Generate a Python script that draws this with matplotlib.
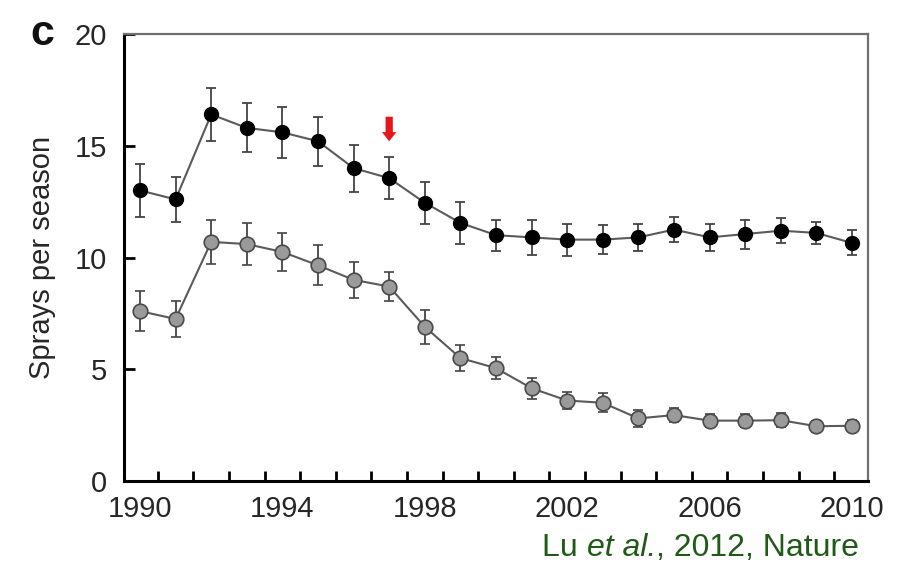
import numpy as np
from matplotlib import pyplot as plt

years = np.arange(1990, 2011)
bt_free = [13.0, 12.6, 16.4, 15.8, 15.6, 15.2, 14.0, 13.55, 12.45, 11.55, 11.0, 10.9,
           10.8, 10.8, 10.9, 11.25, 10.9, 11.05, 11.2, 11.1, 10.65]
bt_free_err = [1.2, 1.0, 1.2, 1.1, 1.15, 1.1, 1.05, 0.93, 0.93, 0.95, 0.7, 0.8,
               0.72, 0.65, 0.6, 0.55, 0.62, 0.65, 0.55, 0.5, 0.56]
bt_cotton = [7.6, 7.25, 10.7, 10.6, 10.25, 9.65, 9.0, 8.7, 6.9, 5.5, 5.05, 4.15,
             3.6, 3.5, 2.8, 2.95, 2.7, 2.7, 2.72, 2.45, 2.47]
bt_cotton_err = [0.9, 0.8, 1.0, 0.95, 0.85, 0.9, 0.82, 0.65, 0.75, 0.6, 0.5, 0.48,
                 0.4, 0.43, 0.37, 0.3, 0.3, 0.3, 0.3, 0.25, 0.25]
year_labels = [1990, 1994, 1998, 2002, 2006, 2010]
arrow_year = 1997

plt.rcParams['font.family'] = ['Liberation Sans', 'DejaVu Sans']

fig = plt.figure(figsize=(9.07, 5.67), dpi=100)
ax = fig.add_axes([0.1367, 0.1517, 0.8203, 0.7883])

line_col = "#5a5a5a"
ax.errorbar(years, bt_free, yerr=bt_free_err, fmt="-o", color=line_col, lw=1.5,
            ecolor="#444444", elinewidth=1.3, capsize=3.8, capthick=1.3,
            markerfacecolor="black", markeredgecolor="black", markersize=10, zorder=3)
ax.errorbar(years, bt_cotton, yerr=bt_cotton_err, fmt="-o", color=line_col, lw=1.5,
            ecolor="#444444", elinewidth=1.3, capsize=3.8, capthick=1.3,
            markerfacecolor="#9a9a9a", markeredgecolor="#4a4a4a", markeredgewidth=1.2,
            markersize=10.5, zorder=3)

# red arrow above 1997
ax.annotate("", xy=(arrow_year, 15.2), xytext=(arrow_year, 16.3),
            arrowprops=dict(arrowstyle="simple,head_length=0.33,head_width=0.52,tail_width=0.26",
                            mutation_scale=20, color="#e8141c", lw=0, shrinkA=0, shrinkB=0))

ax.set_xlim(1989.55, 2010.45)
ax.set_ylim(0, 20)
ax.set_yticks([0, 5, 10, 15, 20])
ax.set_xticks(year_labels)
ax.set_xticks(np.arange(1990.5, 2010), minor=True)
ax.tick_params(axis="x", which="major", length=0, labelsize=21, pad=10, colors="#262626")
ax.tick_params(axis="x", which="minor", direction="in", length=7, width=2, color="black")
ax.tick_params(axis="y", direction="in", length=8, width=2, labelsize=21, pad=12,
               colors="#262626")
ax.tick_params(axis="y", color="black")

for side in ["left", "bottom"]:
    ax.spines[side].set_linewidth(2.2)
    ax.spines[side].set_color("black")
for side in ["top", "right"]:
    ax.spines[side].set_linewidth(1.6)
    ax.spines[side].set_color("#6f6f6f")

ax.set_ylabel("Sprays per season", fontsize=21, color="#262626", labelpad=14)

fig.text(0.033, 0.92, "c", fontsize=31, fontweight="heavy", color="#111111")

# citation, with italic "et al."
cite_y = 0.02
cite_size = 23
cite_col = "#1f5a17"
t1 = fig.text(0.598, cite_y, "Lu ", fontsize=cite_size, color=cite_col)
fig.canvas.draw()
r = fig.canvas.get_renderer()
x0 = t1.get_window_extent(r).x1 / fig.bbox.width
t2 = fig.text(x0, cite_y, "et al.", fontsize=cite_size, color=cite_col, style="italic")
x1 = t2.get_window_extent(r).x1 / fig.bbox.width
fig.text(x1, cite_y, ", 2012, Nature", fontsize=cite_size, color=cite_col)

fig.savefig("out.png", dpi=100)
